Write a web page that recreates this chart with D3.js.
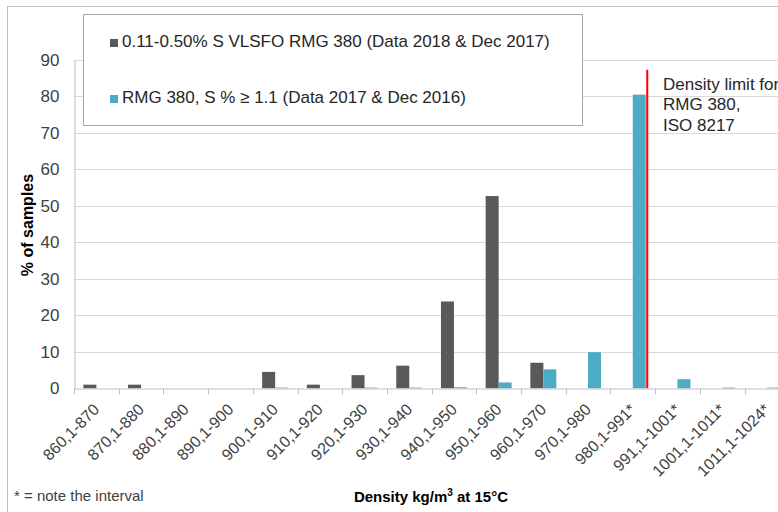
<!DOCTYPE html>
<html>
<head>
<meta charset="utf-8">
<script src="https://cdn.jsdelivr.net/npm/d3@7"></script>
<style>
  body { margin: 0; background: #fff; }
  svg { display: block; font-family: "Liberation Sans", Arial, sans-serif; }
  .tick text { fill: #404040; }
</style>
</head>
<body>
<svg id="chart" width="778" height="512"></svg>
<script>
var categories = ["860,1-870", "870,1-880", "880,1-890", "890,1-900", "900,1-910",
  "910,1-920", "920,1-930", "930,1-940", "940,1-950", "950,1-960", "960,1-970",
  "970,1-980", "980,1-991*", "991,1-1001*", "1001,1-1011*", "1011,1-1024*"];

var seriesNames = ["0.11-0.50% S VLSFO RMG 380 (Data 2018 & Dec 2017)",
  "RMG 380, S % \u2265 1.1 (Data 2017 & Dec 2016)"];

var vlsfo = [1.0, 1.0, 0, 0, 4.5, 1.0, 3.6, 6.2, 23.8, 52.7, 7.0, 0, 0, 0, 0, 0];
var hsfo  = [0, 0, 0, 0, 0.2, 0, 0.2, 0.2, 0.3, 1.6, 5.2, 9.9, 80.5, 2.5, 0.2, 0.2];

var yTicks = [0, 10, 20, 30, 40, 50, 60, 70, 80, 90];
var limitCategory = "980,1-991*";
var limitTop = 87.3;
var limitLabel = ["Density limit for", "RMG 380,", "ISO 8217"];

var colors = ["#595959", "#4bacc6"];

var svg = d3.select("#chart"),
    width = +svg.attr("width"),
    height = +svg.attr("height");

var margin = {top: 60, left: 74};
var plotBottom = 388.3;
var step = 44.7;

// outer chart border (runs off the picture on the right and bottom)
svg.append("rect")
    .attr("x", 7.5).attr("y", 6.5)
    .attr("width", 800).attr("height", 600)
    .attr("fill", "none")
    .attr("stroke", "#bfbfbf");

var x = d3.scaleBand()
    .domain(categories)
    .range([margin.left, margin.left + step * categories.length]);

var x1 = d3.scaleBand()
    .domain([0, 1])
    .range([0, x.bandwidth()])
    .paddingOuter(0.72);

var y = d3.scaleLinear()
    .domain([0, 90])
    .range([plotBottom, margin.top]);

// gridlines
svg.append("g")
    .selectAll("line")
    .data(yTicks.filter(function(d) { return d > 0; }))
  .enter().append("line")
    .attr("x1", margin.left).attr("x2", width)
    .attr("y1", function(d) { return Math.round(y(d)) + 0.5; })
    .attr("y2", function(d) { return Math.round(y(d)) + 0.5; })
    .attr("stroke", "#d9d9d9");

// y axis
var yAxis = svg.append("g")
    .attr("transform", "translate(" + (margin.left + 0.5) + ",0)")
    .call(d3.axisLeft(y).tickValues(yTicks).tickSize(0).tickPadding(15));
yAxis.select(".domain").attr("stroke", "#bfbfbf");
yAxis.selectAll("text").attr("font-size", 17).attr("font-family", "Liberation Sans, Arial, sans-serif");

// bars
var series = [vlsfo, hsfo];
series.forEach(function(values, i) {
  svg.append("g")
      .selectAll("rect")
      .data(values)
    .enter().append("rect")
      .attr("x", function(d, j) { return x(categories[j]) + x1(i); })
      .attr("width", x1.bandwidth())
      .attr("y", function(d) { return y(d); })
      .attr("height", function(d) { return plotBottom - y(d); })
      .attr("fill", colors[i]);
});

// x axis
var xAxis = svg.append("g")
    .attr("transform", "translate(0," + (Math.round(plotBottom) + 0.5) + ")")
    .call(d3.axisBottom(x).tickSize(0).tickPadding(0));
xAxis.select(".domain").attr("stroke", "#bfbfbf");
xAxis.selectAll(".tick line").remove();
xAxis.selectAll(".tick text")
    .attr("font-size", 16)
    .attr("font-family", "Liberation Sans, Arial, sans-serif")
    .attr("text-anchor", "end")
    .attr("dy", 0)
    .attr("transform", "translate(4,22) rotate(-45)");

// band boundary ticks
xAxis.append("g")
    .selectAll("line")
    .data(categories)
  .enter().append("line")
    .attr("x1", function(d) { return Math.round(x(d)) + 0.5; })
    .attr("x2", function(d) { return Math.round(x(d)) + 0.5; })
    .attr("y1", 0).attr("y2", 6)
    .attr("stroke", "#bfbfbf");

// density limit line
var limitX = x(limitCategory) + x1(1) + x1.bandwidth() + 1.5;
svg.append("line")
    .attr("x1", limitX).attr("x2", limitX)
    .attr("y1", y(limitTop)).attr("y2", plotBottom)
    .attr("stroke", "#ff0000")
    .attr("stroke-width", 2);

svg.append("text")
    .attr("x", 663).attr("y", 90)
    .attr("font-size", 17)
    .attr("fill", "#262626")
    .selectAll("tspan")
    .data(limitLabel)
  .enter().append("tspan")
    .attr("x", 663)
    .attr("dy", function(d, i) { return i ? 20.3 : 0; })
    .text(function(d) { return d; });

// legend
var legend = svg.append("g");
legend.append("rect")
    .attr("x", 83.5).attr("y", 14.5)
    .attr("width", 499).attr("height", 111)
    .attr("fill", "#fff")
    .attr("stroke", "#a6a6a6");

var legendY = [47, 103];
seriesNames.forEach(function(name, i) {
  legend.append("rect")
      .attr("x", 110).attr("y", legendY[i] - 8)
      .attr("width", 8).attr("height", 8)
      .attr("fill", colors[i]);
  legend.append("text")
      .attr("x", 122).attr("y", legendY[i])
      .attr("font-size", 17)
      .attr("fill", "#262626")
      .text(name);
});

// axis titles
svg.append("text")
    .attr("transform", "translate(33,225) rotate(-90)")
    .attr("text-anchor", "middle")
    .attr("font-size", 16)
    .attr("font-weight", "bold")
    .attr("fill", "#000")
    .text("% of samples");

var xt = svg.append("text")
    .attr("x", 431).attr("y", 502)
    .attr("text-anchor", "middle")
    .attr("font-size", 15)
    .attr("font-weight", "bold")
    .attr("fill", "#000");
xt.append("tspan").text("Density kg/m");
xt.append("tspan").attr("dy", -6).attr("font-size", 10).text("3");
xt.append("tspan").attr("dy", 6).text(" at 15\u00b0C");

svg.append("text")
    .attr("x", 14).attr("y", 501)
    .attr("font-size", 15)
    .attr("fill", "#404040")
    .text("* = note the interval");
</script>
</body>
</html>
